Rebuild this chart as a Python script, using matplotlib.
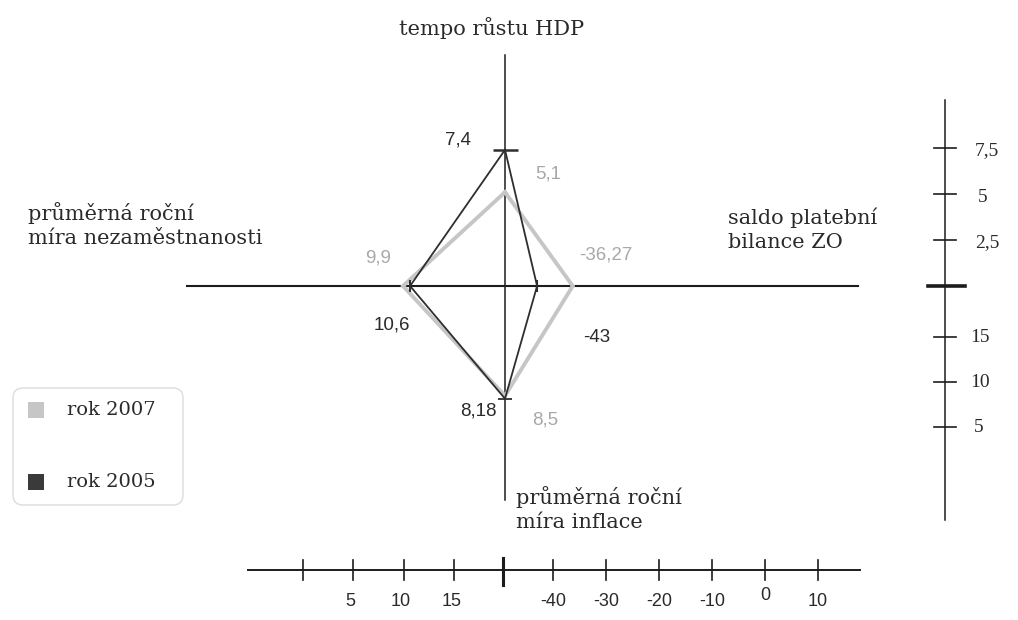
import matplotlib
matplotlib.use("Agg")
import matplotlib.pyplot as plt
from matplotlib.patches import FancyBboxPatch, Rectangle

# ---------------- data ----------------
series_names = ["rok 2007", "rok 2005"]
gdp = [5.1, 7.4]            # tempo růstu HDP (up)
balance = [-36.27, -43.0]   # saldo platební bilance ZO (right)
inflation = [8.5, 8.18]     # průměrná roční míra inflace (down)
unemployment = [9.9, 10.6]  # průměrná roční míra nezaměstnanosti (left)
value_labels_gdp = ["5,1", "7,4"]
value_labels_bal = ["-36,27", "-43"]
value_labels_inf = ["8,5", "8,18"]
value_labels_une = ["9,9", "10,6"]

gdp_ticks = [2.5, 5, 7.5]
gdp_tick_labels = ["2,5", "5", "7,5"]
inf_ticks = [15, 10, 5]
inf_tick_labels = ["15", "10", "5"]
une_ticks = [0, 5, 10, 15]
une_tick_labels = ["", "5", "10", "15"]
bal_ticks = [-40, -30, -20, -10, 0, 10]
bal_tick_labels = ["-40", "-30", "-20", "-10", "0", "10"]

# ---------------- scales (pixel-like canvas) ----------------
W, H = 1018, 620
CX, CY = 505, 286


def y_gdp(v):
    return CY - v * 18.4


def y_inf(v):
    return CY + (20.7 - v) * 9.0


def x_une(v):
    return 303 + v * 10.1


def x_bal(v):
    return 500 + (v + 50) * 5.3


colors = ["#c6c6c6", "#2e2e2e"]
label_colors = ["#a8a8a8", "#2a2a2a"]
lws = [2.8, 1.3]
serif = "DejaVu Serif"
sans = "Liberation Sans"

fig = plt.figure(figsize=(W / 100, H / 100), dpi=100)
ax = fig.add_axes([0, 0, 1, 1])
ax.set_xlim(0, W)
ax.set_ylim(H, 0)
ax.axis("off")

axc = "#1c1c1c"
# main cross
ax.plot([187, 858], [CY, CY], color=axc, lw=1.5, zorder=2)
ax.plot([CX, CX], [55, 500], color=axc, lw=1.1, zorder=2)

# diamonds
for i in range(2):
    xs = [CX, x_bal(balance[i]), CX, x_une(unemployment[i]), CX]
    ys = [y_gdp(gdp[i]), CY, y_inf(inflation[i]), CY, y_gdp(gdp[i])]
    ax.plot(xs, ys, color=colors[i], lw=lws[i], solid_joinstyle="miter",
            zorder=3 + i)
# tick marks on dark diamond vertices
ax.plot([CX], [y_gdp(gdp[1])], marker="_", ms=18, mew=1.8, color=colors[1], zorder=6)
ax.plot([CX], [y_inf(inflation[1])], marker="_", ms=10, mew=1.3, color=colors[1], zorder=6)
ax.plot([x_une(unemployment[1])], [CY], marker="|", ms=9, mew=1.5, color=colors[1], zorder=6)
ax.plot([x_bal(balance[1])], [CY], marker="|", ms=9, mew=1.5, color=colors[1], zorder=6)

# value labels
fs_num = 13.5
kw = dict(fontsize=fs_num, family=sans, ha="center", va="center")
ax.text(CX - 47, y_gdp(gdp[1]) - 10, value_labels_gdp[1], color=label_colors[1], **kw)
ax.text(CX + 43, y_gdp(gdp[0]) - 18, value_labels_gdp[0], color=label_colors[0], **kw)
ax.text(x_une(unemployment[0]) - 25, CY - 28, value_labels_une[0], color=label_colors[0], **kw)
ax.text(x_une(unemployment[1]) - 18, CY + 39, value_labels_une[1], color=label_colors[1], **kw)
ax.text(x_bal(balance[0]) + 33, CY - 31, value_labels_bal[0], color=label_colors[0], **kw)
ax.text(x_bal(balance[1]) + 60, CY + 52, value_labels_bal[1], color=label_colors[1], **kw)
ax.text(CX - 27, y_inf(inflation[1]) + 12, value_labels_inf[1], color=label_colors[1], **kw)
ax.text(CX + 40, y_inf(inflation[0]) + 24, value_labels_inf[0], color=label_colors[0], **kw)

# axis titles
fs_t = 15
tc = "#2a2a2a"
ax.text(492, 28, "tempo růstu HDP", fontsize=fs_t, family=serif, color=tc,
        ha="center", va="center")
ax.text(28, 225, "průměrná roční\nmíra nezaměstnanosti", fontsize=fs_t, family=serif,
        color=tc, ha="left", va="center", linespacing=1.3)
ax.text(728, 230, "saldo platební\nbilance ZO", fontsize=fs_t, family=serif,
        color=tc, ha="left", va="center", linespacing=1.3)
ax.text(516, 509, "průměrná roční\nmíra inflace", fontsize=fs_t, family=serif,
        color=tc, ha="left", va="center", linespacing=1.3)

# right scale axis
RX = 945
ax.plot([RX, RX], [100, 520], color=axc, lw=1.1)
ax.plot([RX - 17, RX + 20], [CY, CY], color=axc, lw=2.6)
for v, lab in zip(gdp_ticks, gdp_tick_labels):
    y = y_gdp(v)
    ax.plot([RX - 11, RX + 11], [y, y], color=axc, lw=1.2)
    ax.text(RX + 30 if lab != "5" else RX + 33, y + 3, lab, fontsize=14,
            family="Liberation Serif", color=tc, ha="left", va="center")
for v, lab in zip(inf_ticks, inf_tick_labels):
    y = y_inf(v)
    ax.plot([RX - 11, RX + 11], [y, y], color=axc, lw=1.2)
    ax.text(RX + 25 if lab != "5" else RX + 29, y, lab, fontsize=14,
            family="Liberation Serif", color=tc, ha="left", va="center")

# bottom scale axis
BY = 570
ax.plot([248, 860], [BY, BY], color=axc, lw=1.4)
ax.plot([CX - 2, CX - 2], [BY - 12, BY + 15], color=axc, lw=2.2)
for v, lab in zip(une_ticks, une_tick_labels):
    x = x_une(v)
    ax.plot([x, x], [BY - 10, BY + 10], color=axc, lw=1.2)
    ax.text(x - 3, BY + 32, lab, fontsize=13, family=sans, color=tc,
            ha="center", va="center")
for v, lab in zip(bal_ticks, bal_tick_labels):
    x = x_bal(v)
    ax.plot([x, x], [BY - 10, BY + 10], color=axc, lw=1.2)
    ax.text(x, BY + 32 - (6 if v == 0 else 0), lab, fontsize=13, family=sans, color=tc,
            ha="center", va="center")

# legend
box = FancyBboxPatch((13, 388), 170, 117, boxstyle="round,pad=0,rounding_size=10",
                     facecolor="white", edgecolor="#dcdcdc", lw=1.0, zorder=1)
ax.add_patch(box)
leg_y = [410, 482]
for i in range(2):
    ax.add_patch(Rectangle((28, leg_y[i] - 8), 16, 16,
                           facecolor=colors[i] if i == 0 else "#3a3a3a",
                           edgecolor="none", zorder=2))
    ax.text(67, leg_y[i], series_names[i], fontsize=14, family=serif, color=tc,
            ha="left", va="center", zorder=3)

fig.savefig("out.png", dpi=100)
